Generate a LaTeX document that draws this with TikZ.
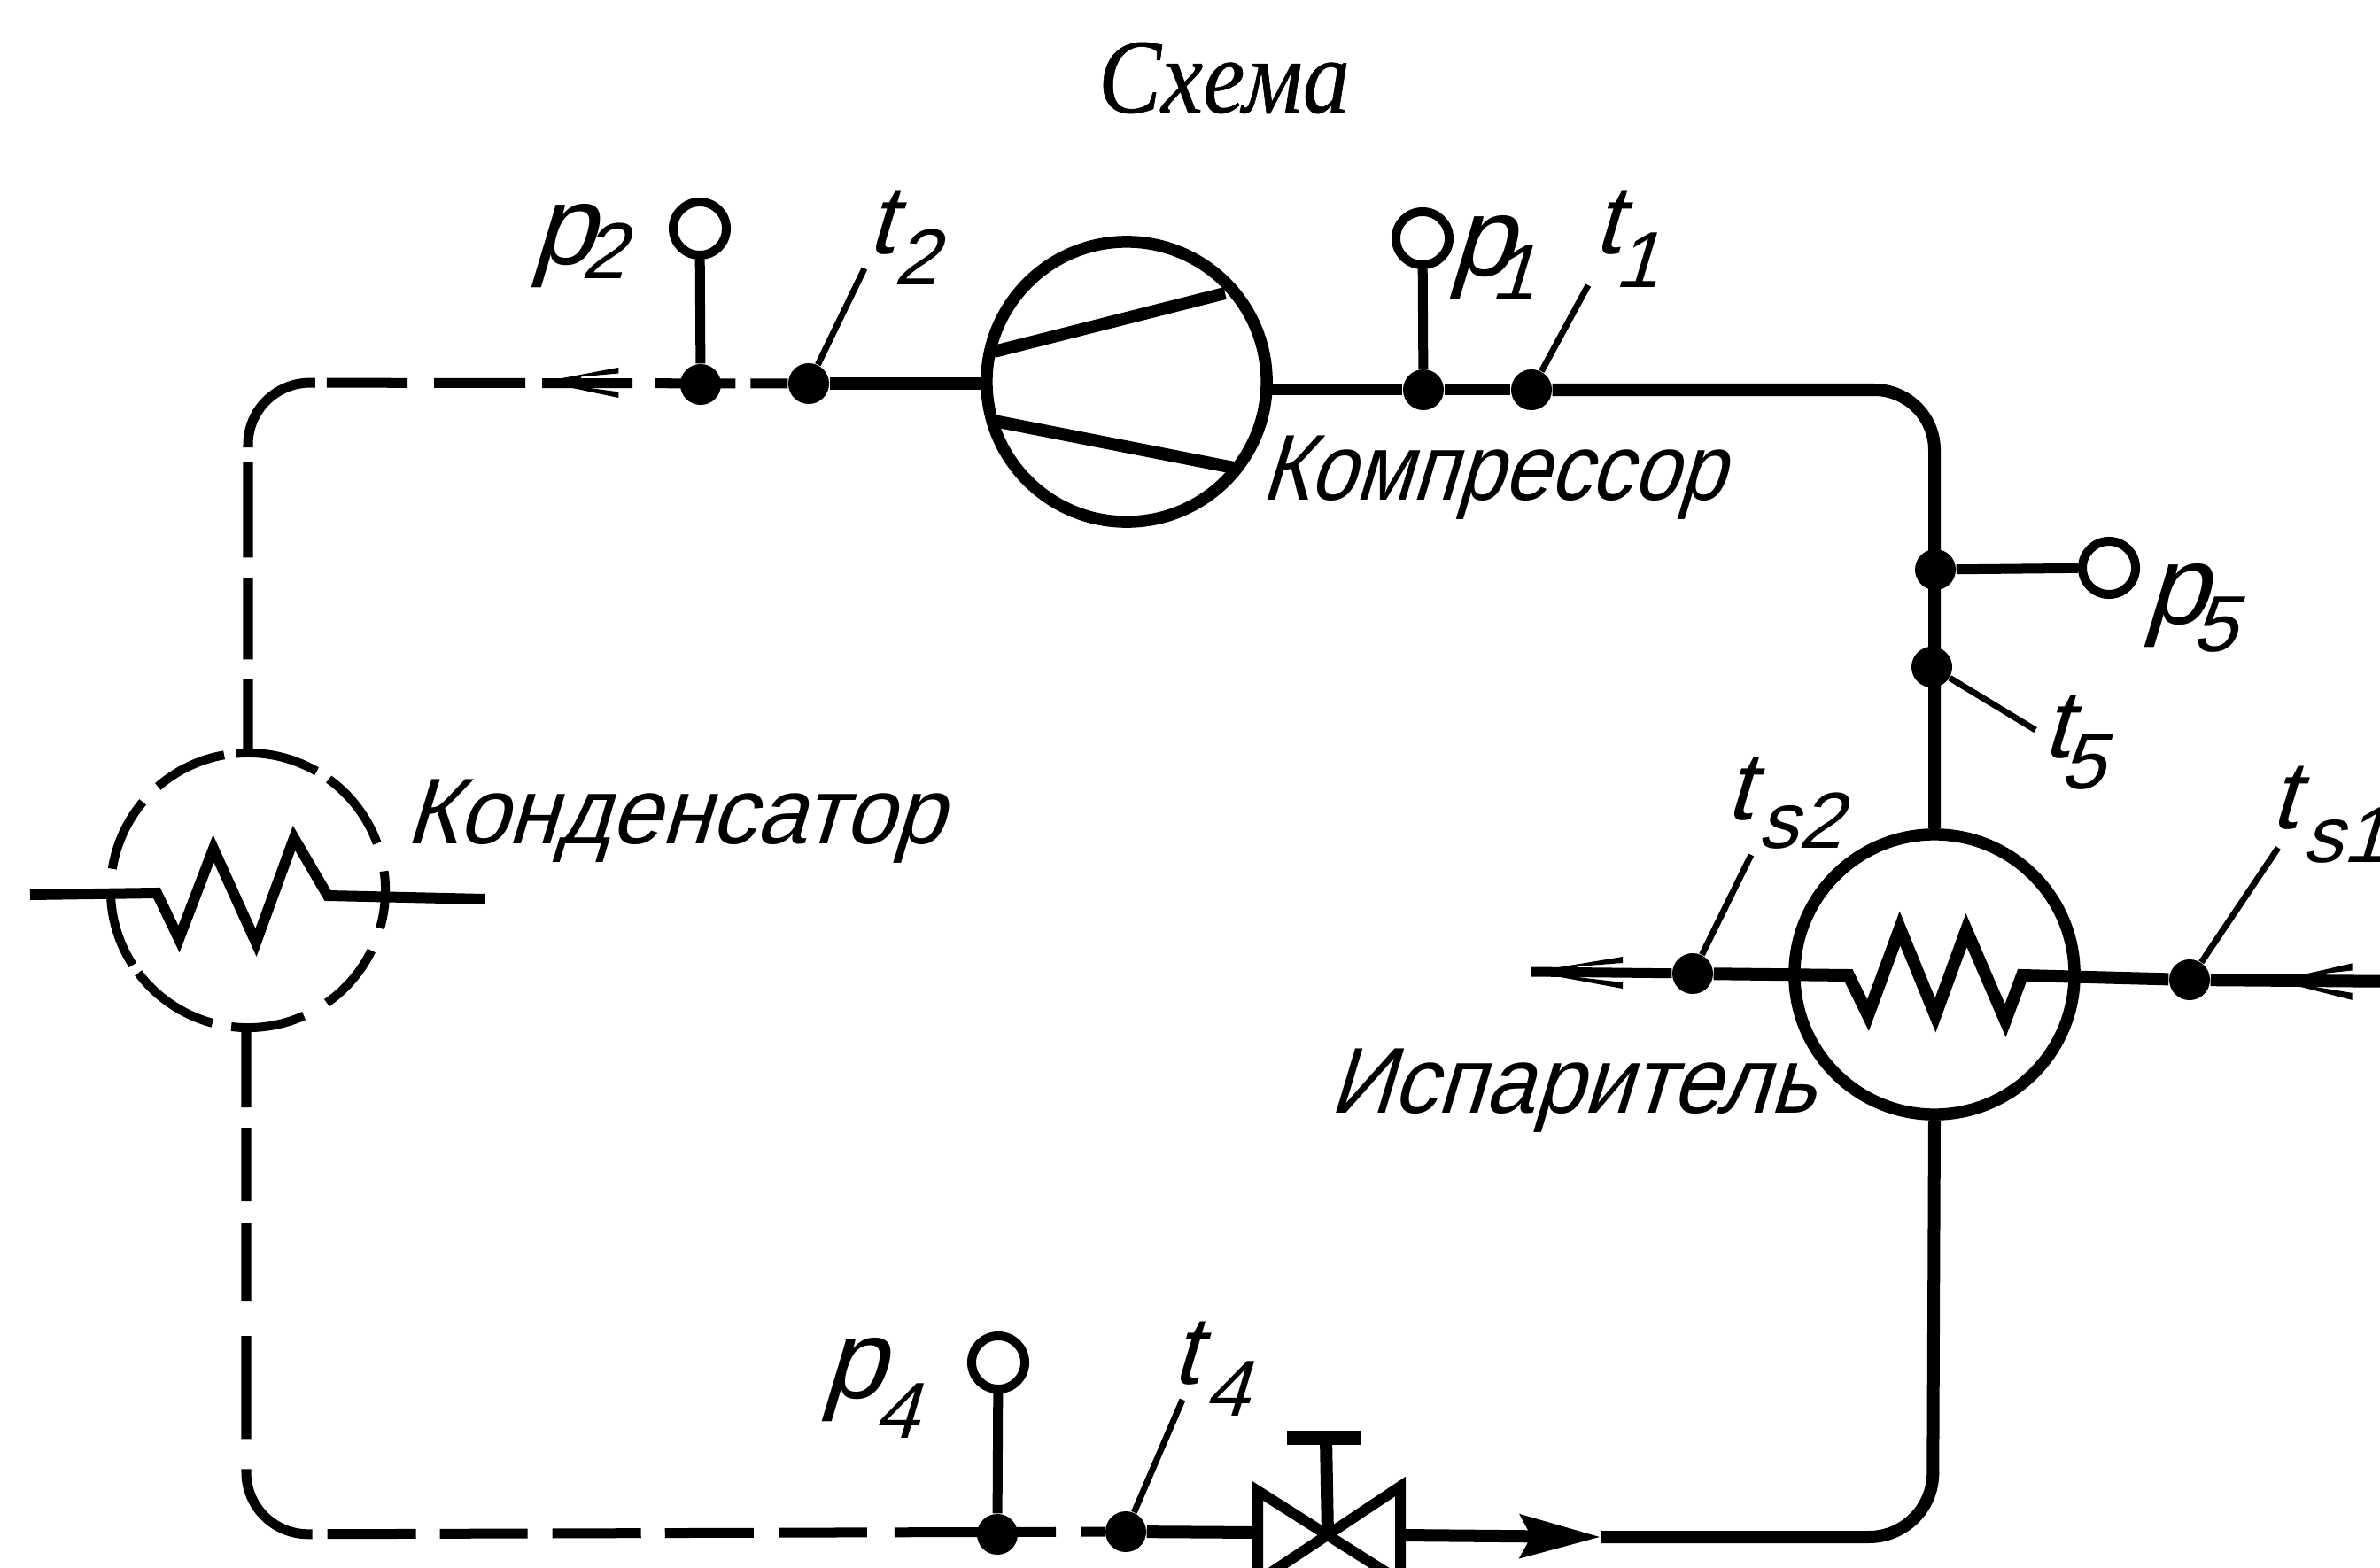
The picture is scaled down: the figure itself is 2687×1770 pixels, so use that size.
\documentclass[tikz,border=0pt]{standalone}
\usepackage{fontspec}
\usetikzlibrary{arrows.meta,calc}
\newfontfamily\gostf[FakeSlant=0.3]{Liberation Sans}
\newfontfamily\gostcomp[FakeSlant=0.3,FakeStretch=0.885]{Liberation Sans}
\newfontfamily\gostcond[FakeSlant=0.3,FakeStretch=0.965]{Liberation Sans}
\newfontfamily\gostevap[FakeSlant=0.3,FakeStretch=0.945]{Liberation Sans}
\newfontfamily\titlef[FakeStretch=0.89,FakeBold=0.5]{Liberation Serif}
\newcommand{\txtsize}{\fontsize{30}{36}\selectfont}
\newcommand{\pu}{\dimexpr0.01cm\relax}
\newcommand{\plab}[3]{\gostf{\fontsize{36}{40}\selectfont p}\kern#1\pu\lower#2\pu\hbox{\fontsize{25.5}{30}\selectfont #3}}
\newcommand{\tlab}[3]{\gostf{\fontsize{31}{36}\selectfont t}\kern#1\pu\lower#2\pu\hbox{\fontsize{25.5}{30}\selectfont #3}}
\tikzset{
  x=0.01cm,y=-0.01cm,
  pipe/.style={line width=0.14cm,line join=round},
  thin pipe/.style={line width=0.11cm},
  dashpipe/.style={line width=0.11cm},
  lead/.style={line width=0.07cm},
  stem/.style={line width=0.11cm},
  dotnode/.style={circle,fill=black,inner sep=0pt,minimum size=0.46cm},
  ring/.style={circle,draw=black,line width=0.1cm,inner sep=0pt,minimum size=0.6cm},
  vessel/.style={circle,draw=black,line width=0.135cm,inner sep=0pt,minimum size=3.16cm},
  ghost/.style={circle,inner sep=0pt,minimum size=3.1cm},
  label/.style={anchor=base west,inner sep=0pt,outer sep=0pt},
  solidarrow/.style={line width=0.14cm,-{Stealth[length=0.9cm,width=0.48cm,inset=0.12cm]}},
  leftbarb/.pic={\fill[black] (0,0) -- (103,-17) -- (103,-10) -- (52,-6) -- (52,6) -- (103,12) -- (103,19) -- cycle;},
}
\begin{document}
\begin{tikzpicture}
\useasboundingbox (0,0) rectangle (2687,1770);
\clip (0,0) rectangle (2687,1770);
\fill[white] (0,0) rectangle (2687,1770);

% nodes
\node[vessel] (comp) at (1272,431) {};
\node[vessel] (evap) at (2184,1100) {};
\node[ghost] (cond) at (280,1005) {};
\node[dotnode] (dp2) at (791,434) {};
\node[dotnode] (dt2) at (913,433) {};
\node[dotnode] (dp1) at (1607,440) {};
\node[dotnode] (dt1) at (1729,440) {};
\node[dotnode] (dp5) at (2185,643) {};
\node[dotnode] (dt5) at (2181,753) {};
\node[dotnode] (dts2) at (1911,1099) {};
\node[dotnode] (dts1) at (2472,1106) {};
\node[dotnode] (dp4) at (1126,1732) {};
\node[dotnode] (dt4) at (1271,1729) {};
\node[ring] (rp2) at (790,258) {};
\node[ring] (rp1) at (1606,269) {};
\node[ring] (rp5) at (2381,641) {};
\node[ring] (rp4) at (1127,1538) {};
\coordinate (lt2) at (976,303);
\coordinate (lt1) at (1793,322);
\coordinate (lt5) at (2298,824);
\coordinate (lts2) at (1977,965);
\coordinate (lts1) at (2572,957);
\coordinate (lt4) at (1335,1580);
\coordinate (condtop) at (280,848);
\coordinate (condbot) at (278,1160);
\coordinate (compL) at (1115,433);
\coordinate (compR) at (1428,440);
\coordinate (vl) at (1420,1730);
\coordinate (vr) at (1581,1733);
\coordinate (vc) at (1499,1733);
\coordinate (vtop) at (1497,1623);
\coordinate (tipL) at (1729,1097);
\coordinate (tipR) at (2570,1107);
\coordinate (edgeR) at (2720,1108);
\coordinate (tipT) at (613,431);
\coordinate (tipB) at (1807,1735);

% compressor
\draw[pipe] (1122,397) -- (1383,331);
\draw[pipe] (1122,475) -- (1393,528);
\draw[pipe] (compL) -- (dt2);
\draw[thin pipe] (compR) -- (dp1);
\draw[thin pipe] (dp1) -- (dt1);

% suction line to evaporator
\draw[pipe,rounded corners=0.68cm] (dt1) -| (evap.north);
\draw[stem] (dp5) -- (rp5);

% leads and stems
\foreach \a/\b in {dt2/lt2,dt1/lt1,dt5/lt5,dts2/lts2,dts1/lts1,dt4/lt4}
  \draw[lead] (\a) -- (\b);
\foreach \a/\b in {dp2/rp2,dp1/rp1,dp4/rp4}
  \draw[stem] (\a) -- (\b);

% dashed discharge line
\draw[dashpipe,rounded corners=0.7cm,
  dash pattern=on 0.42cm off 0.17cm on 0.9cm off 0.26cm on 1.02cm off 0.19cm on 1.03cm off 0.3cm on 0.91cm off 0.13cm on 1.19cm off 0.16cm on 1.08cm off 0.23cm on 0.92cm off 0.22cm on 1.2cm off 1cm]
  (dt2) -- (280,432) -- (condtop);
\pic[xscale=0.83,yscale=0.95] at (tipT) {leftbarb};

% dashed liquid line
\draw[dashpipe,rounded corners=0.7cm,
  dash pattern=on 0.9cm off 0.23cm on 0.83cm off 0.25cm on 0.88cm off 0.39cm on 1.16cm off 0.34cm on 1.18cm off 0.17cm on 1cm off 0.27cm on 0.99cm off 0.28cm on 1cm off 0.27cm on 1cm off 0.29cm on 0.99cm off 0.31cm on 1.82cm off 0.29cm on 0.6cm off 1cm]
  (condbot) -- (278,1732) -- (dt4);

% condenser
\foreach \a/\b in {171/140,131/100,95/60,54/20,8/-16,-26/-55,-66/-97,-105/-143,-147/-178}
  \draw[line width=0.1cm] ([shift={(\a:1.55cm)}]cond.center) arc (\a:\b:1.55cm);
\draw[line width=0.12cm,line join=miter] (34,1010) -- (177,1008) -- (202,1060) -- (241,958) -- (289,1064) -- (332,946) -- (370,1011) -- (547,1015);

% evaporator
\draw[thin pipe] (dts2) -- (tipL);
\pic at (tipL) {leftbarb};
\draw[pipe,line join=miter] (dts2) -- (2087,1101) -- (2109,1146) -- (2145,1048) -- (2185,1146) -- (2220,1050) -- (2264,1152) -- (2283,1101) -- (dts1);
\draw[pipe] (dts1) -- (edgeR);
\pic[xscale=0.83,yscale=1.15] at (tipR) {leftbarb};

% valve
\draw[line width=0.12cm,line join=miter] (1420,1683) -- (1581,1785) -- (1581,1678) -- (1420,1785) -- cycle;
\draw[line width=0.14cm] (vc) -- (vtop);
\draw[line width=0.16cm] (1453,1623) -- (1537,1623);
\draw[pipe] (dt4) -- (vl);
\draw[solidarrow] (vr) -- (tipB);
\draw[pipe,rounded corners=0.72cm] (tipB) -- (2182,1735) -- (evap.south);

% texts
\node[label,font=\titlef\itshape\fontsize{34}{40}\selectfont] (title) at (1240,127) {Схема};
\node[label,font=\gostcomp\txtsize] (tcomp) at (1423,564) {Компрессор};
\node[label,font=\gostcond\txtsize] (tcond) at (457,952) {Конденсатор};
\node[label,font=\gostevap\txtsize] (tevap) at (1500,1256) {Испаритель};
\node[label] (np2) at (599,299) {\plab{-14}{16}{2}};
\node[label] (np1) at (1636,312) {\plab{-24}{27}{1}};
\node[label] (np5) at (2420,705) {\plab{-16}{31}{5}};
\node[label] (np4) at (927,1578) {\plab{-11}{45}{4}};
\node[label] (nt2) at (978,287) {\tlab{0}{35}{2}};
\node[label] (nt1) at (1798,287) {\tlab{-6}{38}{1}};
\node[label] (nt5) at (2305,855) {\tlab{-10}{35}{5}};
\node[label] (nts2) at (1947,925) {\tlab{7}{32}{s2}};
\node[label] (nts1) at (2562,935) {\tlab{7}{38}{s1}};
\node[label] (nt4) at (1322,1562) {\tlab{7}{36}{4}};
\end{tikzpicture}
\end{document}
